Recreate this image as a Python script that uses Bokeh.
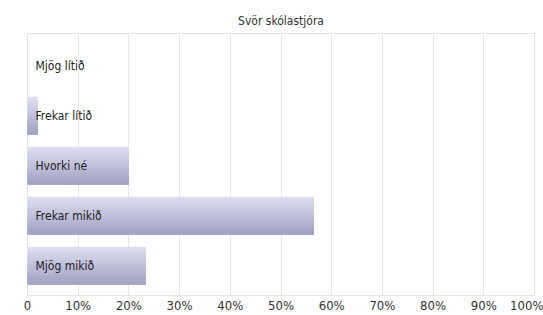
from bokeh.plotting import figure
from bokeh.models import Range1d, FixedTicker
from bokeh.core.properties import value
from bokeh.embed import file_html
from bokeh.resources import INLINE

title_text = "Svör skólastjóra"
categories = ["Mjög lítið", "Frekar lítið", "Hvorki né", "Frekar mikið", "Mjög mikið"]
values = [0.0, 2.0, 20.0, 56.5, 23.3]
ticks = [0, 10, 20, 30, 40, 50, 60, 70, 80, 90, 100]
tick_labels = ["0", "10%", "20%", "30%", "40%", "50%", "60%", "70%", "80%", "90%", "100%"]

FONT = "DejaVu Sans Condensed, sans-serif"

p = figure(width=543, height=315, output_backend="svg", toolbar_location=None,
           x_range=Range1d(0, 100), y_range=Range1d(4.6, -0.64),
           title=title_text, min_border_left=27, min_border_right=9,
           min_border_top=33, min_border_bottom=0)

p.title.align = "center"
p.title.text_font = FONT
p.title.text_font_size = "12px"
p.title.text_font_style = "normal"
p.title.text_color = "#333333"
p.title.standoff = 11

p.outline_line_color = "#e4e4e4"
p.background_fill_color = "white"
p.border_fill_color = "white"
p.ygrid.visible = False
p.yaxis.visible = False
p.xgrid.grid_line_color = "#e8e8e8"
p.xgrid.grid_line_width = 1
p.xaxis.ticker = FixedTicker(ticks=ticks)
p.xaxis.major_label_overrides = {t: l for t, l in zip(ticks, tick_labels)}
p.xaxis.axis_line_color = None
p.xaxis.major_tick_line_color = None
p.xaxis.minor_tick_line_color = None
p.xaxis.major_label_standoff = -4
p.xaxis.major_label_text_font = FONT
p.xaxis.major_label_text_font_size = "13px"
p.xaxis.major_label_text_color = "#333333"

ys = list(range(len(categories)))

# gradient bars: nested strips from each strip's top to the bar bottom (light top -> darker bottom)
bar_h = 0.75
n = 20
top = (0xdd, 0xdd, 0xee)
bot = (0xa2, 0xa2, 0xc6)
for k in range(n):
    t = k / (n - 1)
    c = tuple(int(round(top[i] + (bot[i] - top[i]) * t)) for i in range(3))
    col = "#%02x%02x%02x" % c
    h = bar_h * (n - k) / n
    off = bar_h / 2 - h / 2
    p.hbar(y=[y + off for y in ys], right=values, left=0, height=h,
           fill_color=col, line_color=None)

p.text(x=[0] * len(categories), y=ys, text=categories, x_offset=8,
       text_baseline="middle", text_align="left",
       text_font=value(FONT), text_font_size="12px", text_color="#222222")

open("out.html", "w").write(file_html(p, INLINE))
